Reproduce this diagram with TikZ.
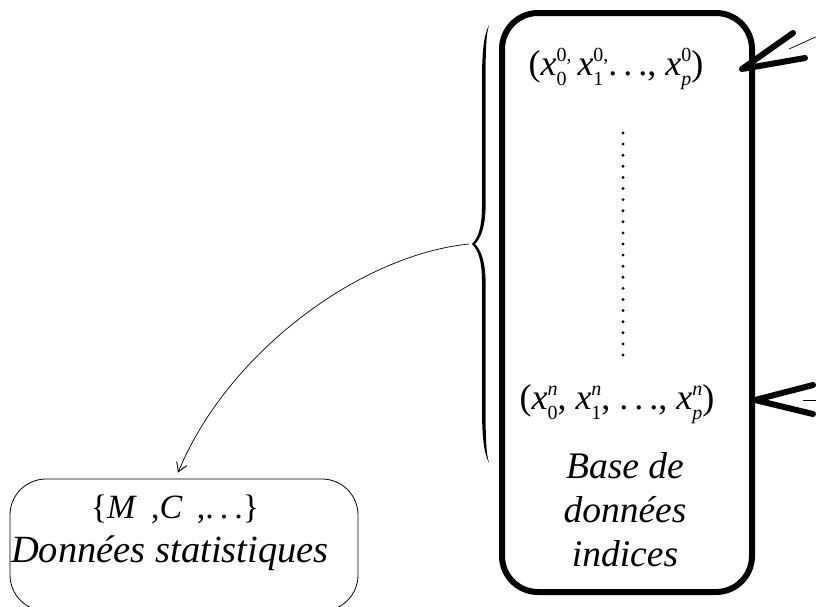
\documentclass[tikz,border=0pt]{standalone}
\usepackage{fontspec}
\setmainfont{Liberation Serif}
\usetikzlibrary{arrows.meta}
\newcommand\myxs[2]{\textit{x}\setbox0=\hbox{\fontsize{20}{20}\selectfont #1}\setbox2=\hbox{\fontsize{20}{20}\selectfont #2}\dimen0=\wd0 \ifdim\wd2>\dimen0 \dimen0=\wd2\fi\hbox to\dimen0{\rlap{\raise13.5pt\box2}\lower10.5pt\box0\hfil}}
\newcommand\mydots{.\kern6pt.\kern6pt.}
\begin{document}
\begin{tikzpicture}[x=1pt,y=-1pt,
  bigbox/.style={draw, line width=6pt, rounded corners=36pt, minimum width=250pt, minimum height=579pt, inner sep=0pt},
  statbox/.style={draw, line width=0.8pt, rounded corners=36pt, minimum width=348pt, minimum height=132pt, inner sep=0pt},
  lbl/.style={font=\fontsize{37.5}{40}\selectfont\itshape, inner sep=0pt, anchor=base},
  formula/.style={font=\fontsize{36}{38}\selectfont, inner sep=0pt, anchor=base},
  thickhead/.style={line width=6pt, line cap=round, line join=round},
  thinshaft/.style={line width=0.7pt},
  conn/.style={line width=0.7pt, -{Straight Barb[length=9pt,width=11pt,line width=0.9pt]}}]
\useasboundingbox (0,0) rectangle (816,606);
\fill[white] (0,0) rectangle (816,606);
% boxes
\node[bigbox] (db) at (627,302.5) {};
\node[statbox] (stat) at (184,545) {};
% texts in big box
\node[formula] (f0) at (616,75) {(\myxs{0}{0,}\,\myxs{1}{0,}\mydots, \myxs{\textit{p}}{0})};
\node[formula] (fn) at (617,409) {(\myxs{0}{\textit{n}}, \myxs{1}{\textit{n}}, \mydots, \myxs{\textit{p}}{\textit{n}})};
\node[lbl] (b1) at (625,478) {Base de};
\node[lbl] (b2) at (625,522) {données};
\node[lbl] (b3) at (625,566) {indices};
% dotted line
\coordinate (d1) at (623,133);
\coordinate (d2) at (623,355);
\draw[line width=3.2pt, line cap=round, dash pattern=on 0pt off 11.1pt] (d1) -- (d2);
% texts in stat box
\node[formula, font=\fontsize{34}{36}\selectfont] (mc) at (175,518) {\{\textit{M}\, ,\textit{C}\, ,\mydots\}};
\node[lbl, font=\fontsize{38.5}{40}\selectfont\itshape] (ds) at (170,562) {Données statistiques};
% brace (filled calligraphic shape)
\coordinate (brt) at (489,25);
\coordinate (brm) at (472,244);
\coordinate (brb) at (489,463);
\fill (brt) .. controls (484,35) and (482,50) .. (482,80) -- (482,205)
  .. controls (482,228) and (478,238) .. (brm)
  .. controls (478,250) and (482,260) .. (482,283) -- (482,408)
  .. controls (482,438) and (484,453) .. (brb)
  .. controls (486,453) and (485.6,438) .. (485.6,408) -- (485.6,283)
  .. controls (485.6,262) and (481,250) .. (475,244)
  .. controls (481,238) and (485.6,226) .. (485.6,205) -- (485.6,80)
  .. controls (485.6,50) and (486,35) .. (brt) -- cycle;
\coordinate (bt) at (469,244);
\coordinate (ae) at ([xshift=-6pt,yshift=6pt]stat.north);
\draw[conn] (bt) .. controls (360,255) and (228,352) .. (ae);
% right arrows
\coordinate (h1) at (742,69);
\coordinate (h1a) at (793,33);
\coordinate (h1b) at (805,58);
\coordinate (s1a) at (789,49);
\coordinate (s1b) at (840,26);
\draw[thickhead] (h1a) -- (h1) -- (h1b);
\draw[thinshaft] (s1a) -- (s1b);
\coordinate (h2) at (755,400);
\coordinate (h2a) at (813,385);
\coordinate (h2b) at (813,414);
\coordinate (s2a) at (803,400);
\coordinate (s2b) at (840,400);
\draw[thickhead] (h2a) -- (h2) -- (h2b);
\draw[thinshaft] (s2a) -- (s2b);
\end{tikzpicture}
\end{document}
